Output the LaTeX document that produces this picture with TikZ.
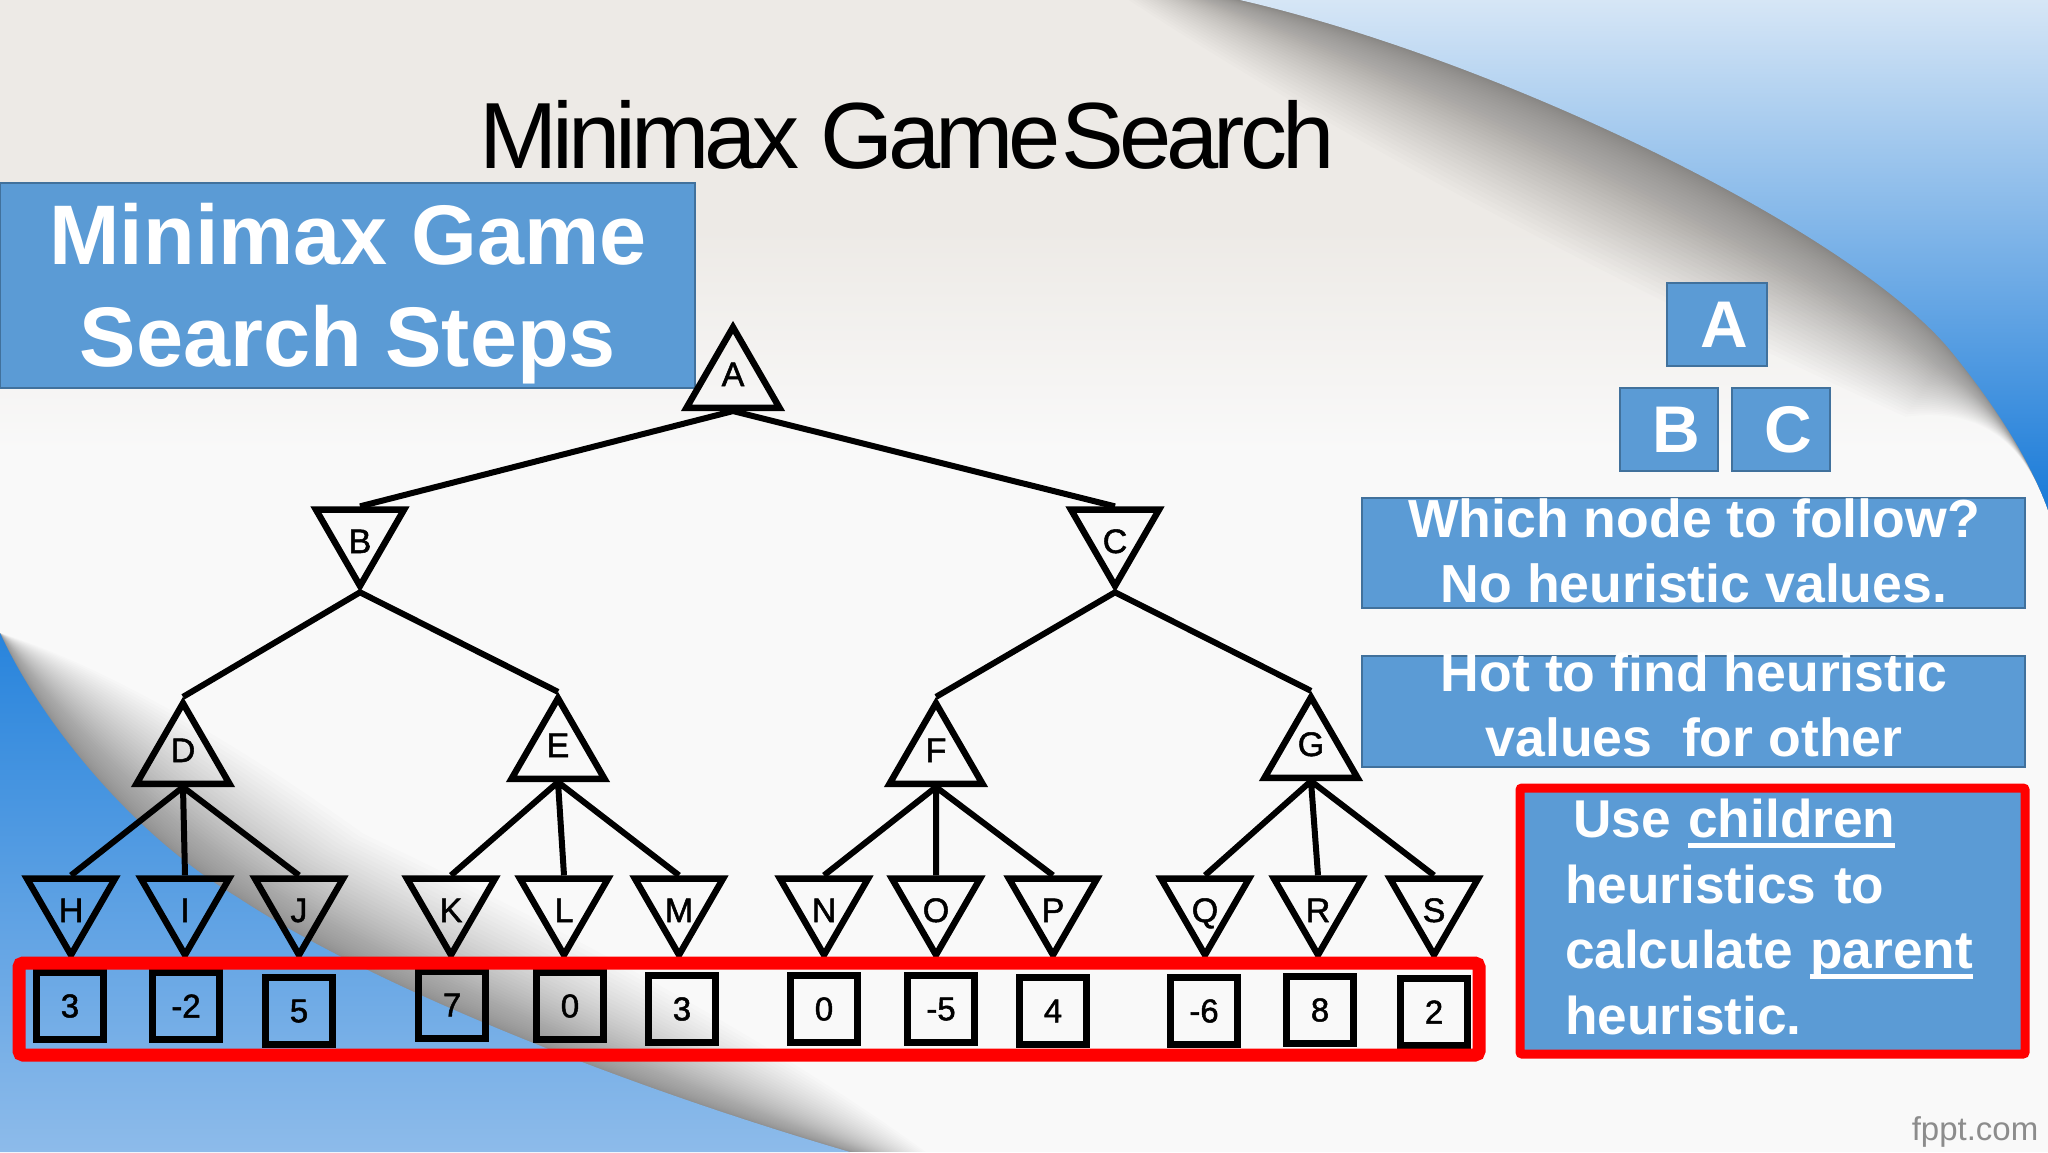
\documentclass[tikz,border=0pt]{standalone}
\usepackage{fontspec}
\setmainfont{Liberation Sans}
\newfontfamily\titlefont[LetterSpace=-5.4]{Liberation Sans}
\newfontfamily\labelfont[FakeBold=1.5]{Liberation Sans}
\usetikzlibrary{shapes.geometric,calc,positioning}
\definecolor{slideblue}{HTML}{5B9BD5}
\definecolor{slideedge}{HTML}{41719C}
\definecolor{slidered}{HTML}{FF0000}
\newcommand{\heavyline}[1]{\leavevmode\setbox0\hbox{#1}\rlap{\rule[-5pt]{\wd0}{2.2pt}}\box0}
\tikzset{
  up/.style={regular polygon,regular polygon sides=3,draw=black,line width=3.2pt,inner sep=0pt,minimum size=50pt,text height=12pt,text depth=7pt,font=\labelfont\fontsize{17}{19}\selectfont},
  down/.style={up,shape border rotate=180,text height=18pt,text depth=0pt},
  val/.style={rectangle,draw=black,line width=3.3pt,inner sep=0pt,minimum size=33.5pt,font=\labelfont\fontsize{16.5}{18}\selectfont},
  edge/.style={draw=black,line width=3pt},
  bluebox/.style={rectangle,draw=slideedge,line width=.7pt,fill=slideblue,inner sep=0pt,text=white,font=\bfseries\fontsize{33}{38}\selectfont},
  boxtext/.style={inner sep=0pt,text=white,align=center,font=\bfseries\fontsize{26.8}{32.5}\selectfont},
}
\begin{document}
\begin{tikzpicture}[x=.5pt,y=-.5pt]
  \useasboundingbox (0,0) rectangle (2048,1152);
  % page
  \fill[color={rgb,255:red,237;green,234;blue,230}] (0,0) rectangle (2048,230);
  \shade[top color={rgb,255:red,237;green,234;blue,230},bottom color={rgb,255:red,249;green,249;blue,249}] (0,230) rectangle (2048,450);
  \fill[color={rgb,255:red,249;green,249;blue,249}] (0,450) rectangle (2048,1152);
  % top right corner
  \foreach \k [evaluate=\k as \d using \k*sqrt(\k)*.44] in {1,...,40}
    \fill[black,opacity=.0105] (1240-1.0*\d,0) .. controls (1500-\d,60+\d) and (1850-\d,230+\d) .. (1950-.4*\d,350+.6*\d) .. controls (1995,405) and (2030,460) .. (2048,510) -- (2048,0) -- cycle;
  \begin{scope}
    \clip (1240,0) .. controls (1500,60) and (1850,230) .. (1950,350) .. controls (1995,405) and (2030,460) .. (2048,510) -- (2048,0) -- cycle;
    \shade[top color={rgb,255:red,214;green,230;blue,246},bottom color={rgb,255:red,24;green,122;blue,216}] (1240,0) rectangle (2048,510);
  \end{scope}
  % bottom left corner
  \foreach \k [evaluate=\k as \d using \k*sqrt(\k)*.5] in {1,...,40}
    \fill[black,opacity=.012] (0,633) .. controls (40+.6*\d,720-.4*\d) and (130+\d,833-.6*\d) .. (237+\d,897-.5*\d) .. controls (370+\d,985-.7*\d) and (620+\d,1085-.5*\d) .. (850+.6*\d,1152) -- (0,1152) -- cycle;
  \begin{scope}
    \clip (0,633) .. controls (40,720) and (130,833) .. (237,897) .. controls (370,985) and (620,1085) .. (850,1152) -- (0,1152) -- cycle;
    \shade[top color={rgb,255:red,40;green,132;blue,220},bottom color={rgb,255:red,141;green,187;blue,234}] (0,633) rectangle (850,1152);
  \end{scope}
  % title and side boxes
  \node[inner sep=0pt,font=\titlefont\fontsize{47}{50}\selectfont] (title) at (907,135) {Minimax Game\hspace{-10pt} Search};
  \node[bluebox,minimum width=347.5pt,minimum height=102.5pt] (steps) at (347.5,285.5) {};
  \node[boxtext,font=\bfseries\fontsize{42.3}{51}\selectfont] (stepstext) at (348,294) {Minimax Game\\Search Steps};
  \node[bluebox,minimum width=50pt,minimum height=41.5pt] (boxa) at (1717,324.5) {\hspace*{7pt}A};
  \node[bluebox,minimum width=49pt,minimum height=41.5pt] (boxb) at (1669,429.5) {\hspace*{7pt}B};
  \node[bluebox,minimum width=49pt,minimum height=41.5pt] (boxc) at (1781,429.5) {\hspace*{7pt}C};
  \node[bluebox,minimum width=331.5pt,minimum height=55pt] (follow) at (1693.5,553) {};
  \node[boxtext] (followtext) at (1694,551) {Which node to follow?\\No heuristic values.};
  \node[bluebox,minimum width=331.5pt,minimum height=55.5pt] (find) at (1693.5,711.5) {};
  \node[boxtext] (findtext) at (1694,705) {Hot to find heuristic\\values\ \ for other};
  % tree
  \node[up] (a) at (733,381) {A};
  \node[down] (b) at (360,535) {B};
  \node[down] (c) at (1115,535) {C};
  \node[up] (d) at (183,757) {D};
  \node[up] (e) at (558,752) {E};
  \node[up] (f) at (936,757) {F};
  \node[up] (g) at (1311,751) {G};
  \node[down] (h) at (71,904) {H};
  \node[down] (i) at (185,904) {I};
  \node[down] (j) at (299,904) {J};
  \node[down] (k) at (451,904) {K};
  \node[down] (l) at (564,904) {L};
  \node[down] (m) at (679,904) {M};
  \node[down] (n) at (824,904) {N};
  \node[down] (o) at (936,904) {O};
  \node[down] (p) at (1053,904) {P};
  \node[down] (q) at (1205,904) {Q};
  \node[down] (r) at (1318,904) {R};
  \node[down] (s) at (1434,904) {S};
  \draw[edge] (b.side 2) -- (a.side 2) -- (c.side 2);
  \draw[edge] (d.corner 1) -- (b.corner 1) -- (e.corner 1);
  \draw[edge] (f.corner 1) -- (c.corner 1) -- (g.corner 1);
  \draw[edge] (h.side 2) -- (d.side 2) -- (j.side 2) (d.side 2) -- (i.side 2);
  \draw[edge] (k.side 2) -- (e.side 2) -- (m.side 2) (e.side 2) -- (l.side 2);
  \draw[edge] (n.side 2) -- (f.side 2) -- (p.side 2) (f.side 2) -- (o.side 2);
  \draw[edge] (q.side 2) -- (g.side 2) -- (s.side 2) (g.side 2) -- (r.side 2);
  % heuristic values
  \node[val] (vh) at (70,1006) {3};
  \node[val] (vi) at (186,1006) {-2};
  \node[val] (vj) at (299,1011) {5};
  \node[val] (vk) at (452,1005) {7};
  \node[val] (vl) at (570,1006) {0};
  \node[val] (vm) at (682,1009) {3};
  \node[val] (vn) at (824,1009) {0};
  \node[val] (vo) at (941,1009) {-5};
  \node[val] (vp) at (1053,1011) {4};
  \node[val] (vq) at (1204,1011) {-6};
  \node[val] (vr) at (1320,1010) {8};
  \node[val] (vs) at (1434,1012) {2};
  \node[rectangle,draw=slidered,line width=6.5pt,rounded corners=2pt,minimum width=730pt,minimum height=46pt] (row) at (749,1009) {};
  \node[rectangle,draw=slidered,line width=4.5pt,rounded corners=1pt,fill=slideblue,text=white,align=left,minimum height=133pt,inner xsep=22.5pt,inner ysep=0pt,text width=207.5pt,font=\bfseries\fontsize{26.6}{32.8}\selectfont] (rule) at (1772.5,921) {\hspace*{4pt}Use \heavyline{children}\\heuristics to\\calculate \heavyline{parent}\\heuristic.\par\vspace{4pt}};
  \node[inner sep=0pt,text=black!45,font=\fontsize{16.5}{18}\selectfont] (site) at (1975,1132) {fppt.com};
\end{tikzpicture}
\end{document}
